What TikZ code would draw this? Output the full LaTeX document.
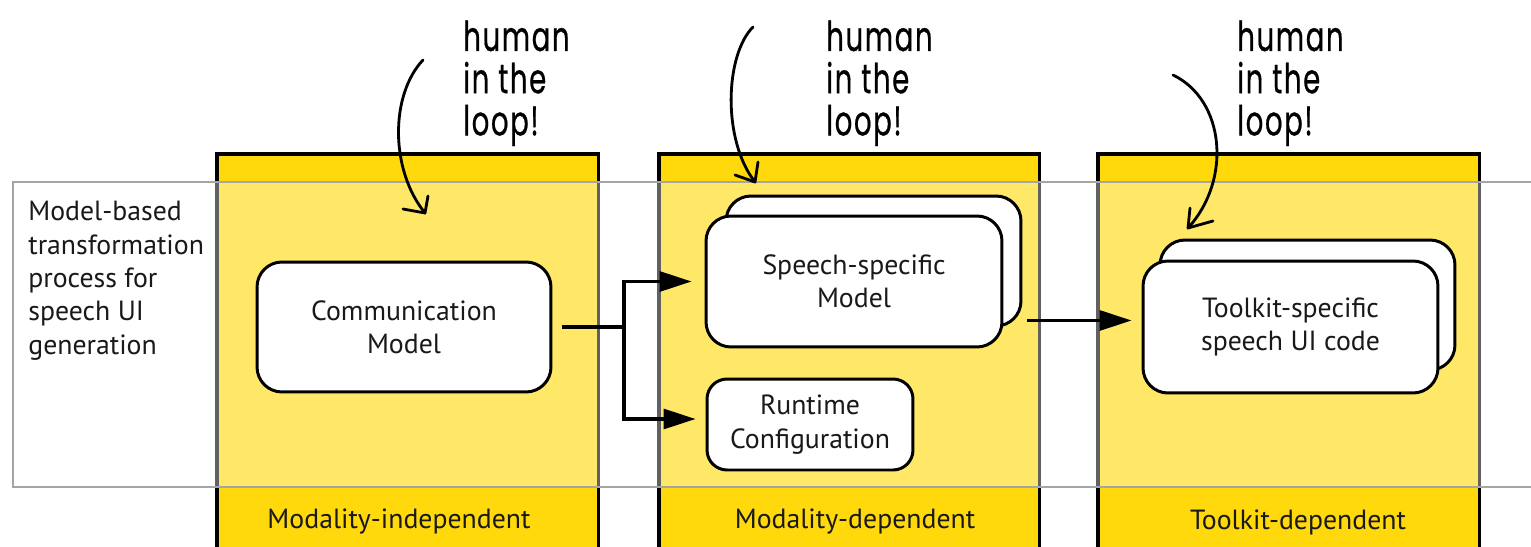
\documentclass[tikz,border=0pt]{standalone}
\usepackage{fontspec}
\setmainfont{PT Sans}
\newfontfamily\handfont[FakeBold=0.7,LetterSpace=6]{Poppins}
\usetikzlibrary{arrows.meta,calc}
\definecolor{boxyellow}{RGB}{255,217,12}
\definecolor{bandgray}{RGB}{165,165,165}
\definecolor{inktext}{RGB}{25,25,25}
\begin{document}
\begin{tikzpicture}[x=0.02cm,y=-0.02cm,
  stage/.style={fill=boxyellow,draw=black,line width=2pt,inner sep=0pt,anchor=north west},
  card/.style={draw=black,fill=white,line width=1.7pt,rounded corners=0.5cm,align=center,
    font=\fontsize{15.8}{19}\selectfont,text=inktext},
  flow/.style={line width=1.8pt},
  flowarrow/.style={flow,-{Triangle[length=0.64cm,width=0.4cm]}},
  hand/.style={line width=1.6pt,line cap=round,line join=round},
  note/.style={font=\handfont\fontsize{17}{17.4}\selectfont,align=left,anchor=north west,
    inner sep=0pt,xscale=0.92,yscale=1.38,transform shape},
  caption/.style={font=\fontsize{15.8}{19}\selectfont,text=inktext}
]
\clip (0,0) rectangle (1531,547);

% the three stages
\node[stage,minimum width=7.64cm,minimum height=8.6cm] (mi) at (215,152) {};
\node[stage,minimum width=7.62cm,minimum height=8.6cm] (md) at (657,152) {};
\node[stage,minimum width=7.64cm,minimum height=8.6cm] (td) at (1096,152) {};
\node[caption] (milabel) at (399,522) {Modality-independent};
\node[caption] (mdlabel) at (855,522) {Modality-dependent};
\node[caption] (tdlabel) at (1298,522) {Toolkit-dependent};

% translucent band of the transformation process
\draw[fill=white,fill opacity=0.38,draw=bandgray,line width=1.3pt] (13,182) rectangle (1560,487);
\node[caption,align=left,anchor=north west,inner sep=0pt] (proc) at (28,201)
  {Model-based\\transformation\\process for\\speech UI\\generation};

% models
\node[card,minimum width=5.88cm,minimum height=2.6cm] (cm) at (404,327) {Communication\\Model};
\node[card,minimum width=5.9cm,minimum height=2.6cm] (ssmb) at (873.5,261) {};
\node[card,minimum width=5.92cm,minimum height=2.62cm] (ssm) at (854,281.5) {Speech-specific\\Model};
\node[card,rounded corners=0.4cm,minimum width=4.12cm,minimum height=1.82cm] (rc) at (810,424.5) {Runtime\\Configuration};
\node[card,minimum width=5.9cm,minimum height=2.6cm] (tkb) at (1307.5,305) {};
\node[card,minimum width=5.9cm,minimum height=2.64cm] (tk) at (1290.5,327) {Toolkit-specific\\speech UI code};

% transformations
\coordinate (fork) at (624,327);
\draw[flow,shorten <=0.2cm] (cm.east) -- (fork);
\draw[flowarrow,shorten >=0.26cm] (fork) |- (ssm.west);
\draw[flowarrow,shorten >=0.2cm] (fork) |- ([yshift=0.11cm]rc.west);
\draw[flowarrow,shorten <=0.1cm,shorten >=0.2cm] ([yshift=0.14cm]ssmb.south east) -- ([yshift=0.14cm]ssmb.south east -| tk.west);

% human in the loop notes
\node[note] (h1) at (463,20) {human\\in the\\loop!};
\node[note] (h2) at (826,20) {human\\in the\\loop!};
\node[note] (h3) at (1237,20) {human\\in the\\loop!};

\draw[hand] (423,60) .. controls (390,95) and (390,170) .. (425,213);
\draw[hand] (403,209) -- (425,213) -- (428,196);
\draw[hand] (753,27) .. controls (725,55) and (722,140) .. (755,182);
\draw[hand] (735,175) -- (755,182) -- (758,162);
\draw[hand] (1173,75) .. controls (1225,100) and (1232,180) .. (1188,228);
\draw[hand] (1213,221) -- (1188,228) -- (1190,208);
\end{tikzpicture}
\end{document}
